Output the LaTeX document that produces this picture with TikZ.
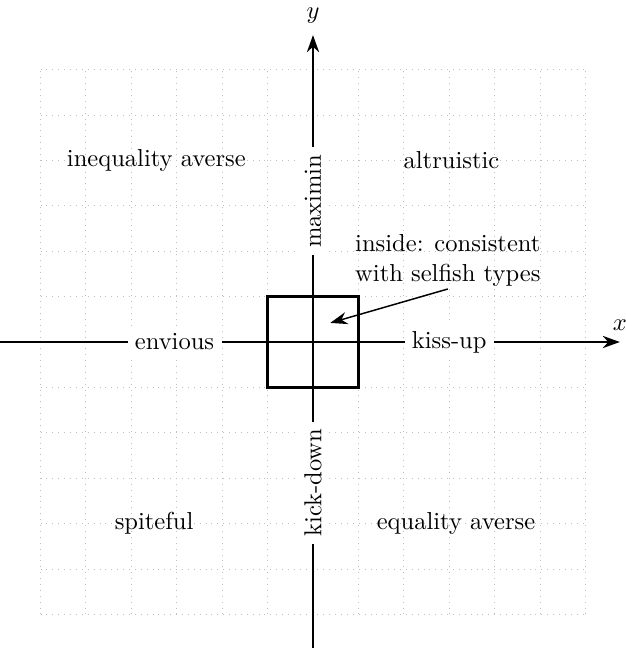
\documentclass[tikz,border=0pt]{standalone}
\usepackage{tikz}
\usetikzlibrary{arrows.meta,positioning}

\begin{document}
\begin{tikzpicture}[
  x=0.65cm, y=0.65cm,
  % Styles
  axis/.style={
    -{Stealth[length=7pt,width=5pt]},
    thick,
    black,
  },
  gridline/.style={
    gray!50,
    dotted,
    thin,
  },
  region/.style={
    font=\normalsize,
    align=center,
  },
  axislabel/.style={
    fill=white,
    inner sep=3pt,
  },
  selfbox/.style={
    draw=black,
    line width=1.3pt,
    minimum width=2*0.65cm,
    minimum height=2*0.65cm,
  },
  pointer/.style={
    -{Stealth[length=7pt,width=5pt]},
    semithick,
  },
]

\useasboundingbox (-6.894,-6.74) rectangle (6.894,7.533);

% ── Background grid ──
\draw[gridline, step=0.65cm] (-6,-6) grid (6,6);

% ── Axes ──
\coordinate (xstart) at (-6.894,0);
\coordinate (xend) at (6.76,0);
\coordinate (ystart) at (0,-6.74);
\coordinate (yend) at (0,6.76);
\draw[axis] (xstart) -- (xend) node[above=1pt] (xlab) {$x$};
\draw[axis] (ystart) -- (yend) node[above=1pt] (ylab) {$y$};

% ── Axis labels ──
\node[axislabel] (envious) at (-3.05,0) {envious};
\node[axislabel] (kissup) at (3,0) {kiss-up};
\node[axislabel, rotate=90] (maximin) at (0,3.1) {maximin};
\node[axislabel, rotate=90] (kickdown) at (0,-3.1) {kick-down};

% ── Selfish box ──
\node[selfbox] (selfish) at (0,0) {};

% ── Quadrant labels ──
\node[region] (ineq) at (-3.45,4) {inequality averse};
\node[region] (altru) at (3.05,4) {altruistic};
\node[region] (spite) at (-3.5,-4) {spiteful};
\node[region] (eqav) at (3.15,-4) {equality averse};

% ── Note with pointer ──
\node[region, inner sep=1pt] (note) at (2.97,1.8) {inside: consistent\\with selfish types};
\coordinate (inside) at (0.38,0.42);
\draw[pointer] (note.south) -- (inside);

\end{tikzpicture}
\end{document}
